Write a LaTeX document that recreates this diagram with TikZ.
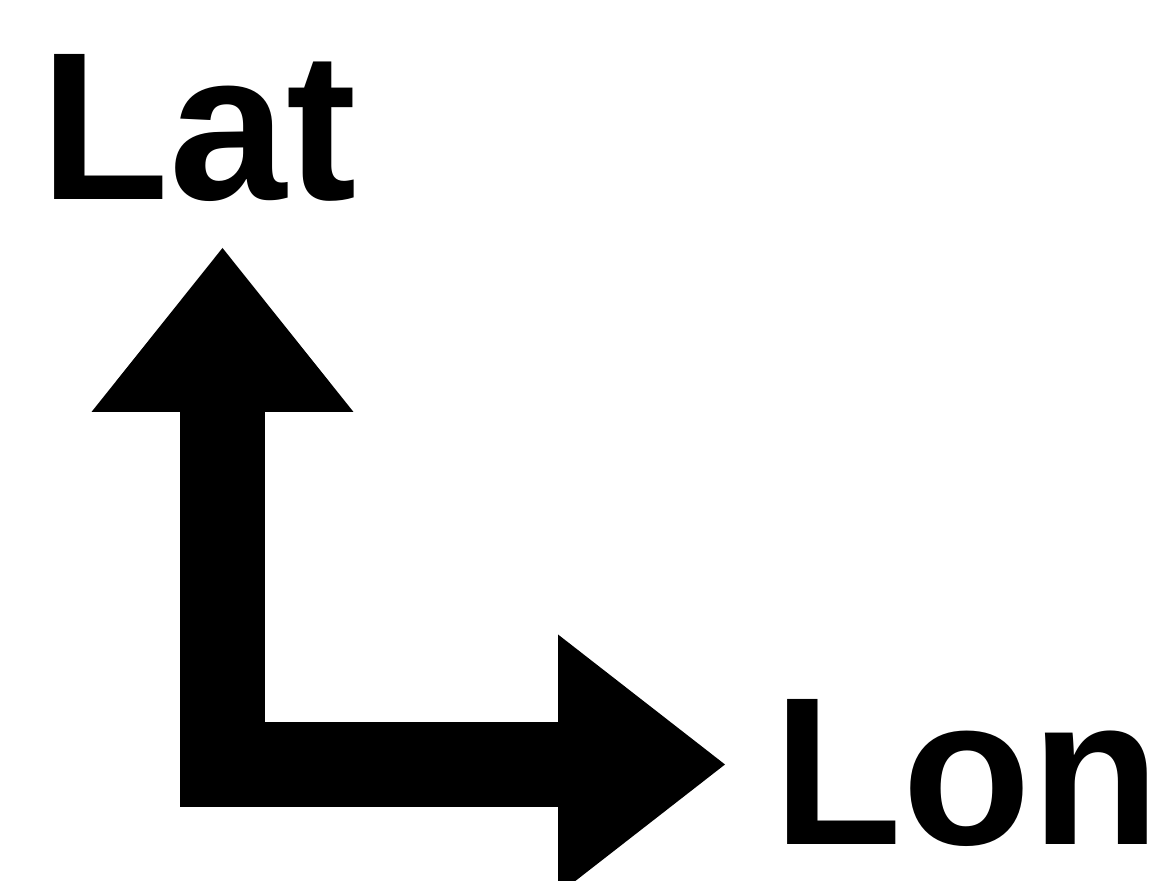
\documentclass[tikz,border=0pt]{standalone}
\usepackage{fontspec}
\setmainfont{Liberation Sans}
\usetikzlibrary{arrows.meta}

\tikzset{
    axislabel/.style={inner sep=0pt, anchor=base west, font=\fontsize{60}{60}\selectfont\bfseries},
    axisarrow/.style={line width=0.85cm, line join=miter,
        {Triangle[width=2.62cm, length=1.64cm, line width=0pt]}-{Triangle[width=2.6cm, length=1.67cm, line width=0pt]}}
}

\begin{document}
\begin{tikzpicture}[x=0.1mm, y=-0.1mm]
    \useasboundingbox (0,0) rectangle (1170,881);
    \clip (0,0) rectangle (1170,881);
    \node[axislabel] (lat) at (40,200) {Lat};
    \node[axislabel] (lon) at (773,845) {Lon};
    \coordinate (lattip) at (222.5,248);
    \coordinate (origin) at (222.5,764.5);
    \coordinate (lontip) at (725,764.5);
    % axes
    \draw[axisarrow] (lattip) -- (origin) -- (lontip);
\end{tikzpicture}
\end{document}
